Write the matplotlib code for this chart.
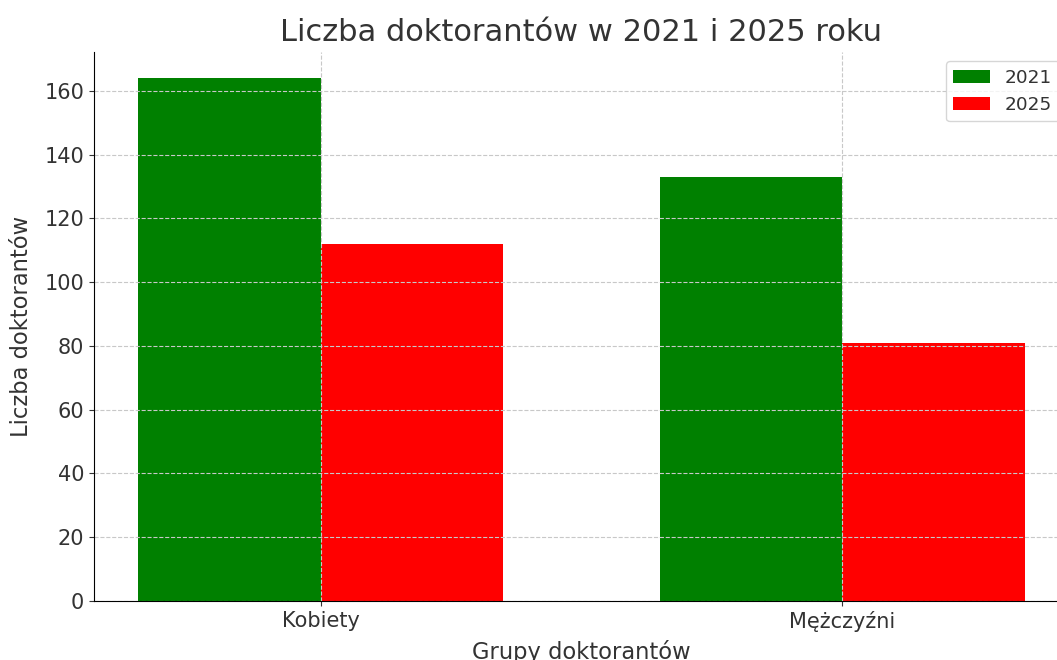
import numpy as np
import matplotlib.pyplot as plt

groups = ['Kobiety', 'Mężczyźni']
years = ['2021', '2025']
vals_2021 = [164, 133]
vals_2025 = [112, 81]

plt.rcParams['text.color'] = '#333333'
plt.rcParams['axes.labelcolor'] = '#333333'
plt.rcParams['xtick.color'] = '#333333'
plt.rcParams['ytick.color'] = '#333333'

fig = plt.figure(figsize=(10.57, 6.6), dpi=100)
# the original picture is cropped on the right, so the axes run past the edge
ax = fig.add_axes([94 / 1057, 59 / 660, 975 / 1057, 549 / 660])

x = np.arange(len(groups))
w = 0.35
ax.bar(x - w / 2, vals_2021, w, color='green', label=years[0])
ax.bar(x + w / 2, vals_2025, w, color='red', label=years[1])

ax.set_xticks(x)
ax.set_xticklabels(groups, fontsize=15)
ax.tick_params(axis='y', labelsize=15)
ax.set_xlabel('Grupy doktorantów', fontsize=16.3, labelpad=6)
ax.set_ylabel('Liczba doktorantów', fontsize=16.3, labelpad=8)
ax.set_title('Liczba doktorantów w 2021 i 2025 roku', fontsize=22, pad=8)

ax.grid(True, linestyle='--', color='#c8c8c8', linewidth=0.8)
ax.spines['top'].set_visible(False)
ax.spines['right'].set_visible(False)
ax.legend(loc='upper right', fontsize=13.3)

plt.savefig('out.png', dpi=100)
